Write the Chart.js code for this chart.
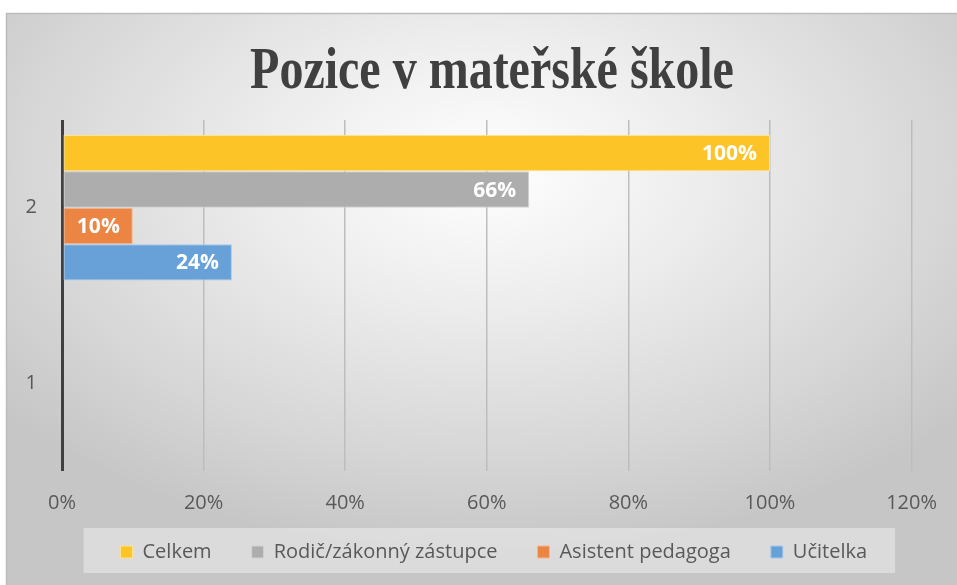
<!DOCTYPE html>
<html>
<head>
    <title>Pozice v mateřské škole</title>
    <script src="https://cdn.jsdelivr.net/npm/chart.js"></script>
    <style>
        html, body { margin: 0; padding: 0; background: #ffffff; }
        #chartBox { width: 957px; height: 585px; }
    </style>
</head>
<body>
    <div id="chartBox">
        <canvas id="myChart"></canvas>
    </div>
    <script>
        // data
        const categories = ['2', '1'];
        const celkem = [100, null];
        const rodic = [66, null];
        const asistent = [10, null];
        const ucitelka = [24, null];
        const seriesNames = ['Celkem', 'Rodič/zákonný zástupce', 'Asistent pedagoga', 'Učitelka'];
        const titleText = 'Pozice v mateřské škole';

        const colors = ['#FDC427', '#ADADAD', '#EC8444', '#67A1D8'];
        const edge = ['#FFE28E', '#D2D2D2', '#F6B893', '#A9C9EA'];
        const textGrey = '#595959';

        // gradient background
        const backdrop = {
            id: 'backdrop',
            beforeDraw(chart) {
                const ctx = chart.ctx;
                ctx.save();
                ctx.fillStyle = '#ffffff';
                ctx.fillRect(0, 0, chart.width, chart.height);
                ctx.beginPath();
                ctx.rect(6, 13, chart.width - 6, chart.height - 13);
                ctx.clip();
                ctx.translate(485, 170);
                ctx.scale(1, 0.62);
                const g = ctx.createRadialGradient(0, 0, 0, 0, 0, 620);
                g.addColorStop(0, '#ffffff');
                g.addColorStop(0.35, '#ededed');
                g.addColorStop(0.75, '#d6d6d6');
                g.addColorStop(1, '#c6c6c6');
                ctx.fillStyle = g;
                ctx.fillRect(-600, -400, 1200, 1200);
                ctx.restore();

                ctx.save();
                ctx.strokeStyle = '#bdbdbd';
                ctx.lineWidth = 1.5;
                ctx.beginPath();
                ctx.moveTo(6.5, chart.height);
                ctx.lineTo(6.5, 13.5);
                ctx.lineTo(chart.width, 13.5);
                ctx.stroke();
                ctx.restore();
            }
        };

        // pull the legend up under the tick labels (items sit wide apart like in Excel)
        const legendShift = {
            id: 'legendShift',
            afterLayout(chart) {
                const lg = chart.legend;
                lg.top -= 19;
                lg.bottom -= 19;
                lg.left += 7;
                lg.right += 7;
            }
        };

        // light panel behind the legend, drawn before the legend itself
        const legendPanel = {
            id: 'legendPanel',
            beforeDraw(chart) {
                const boxes = chart.legend.legendHitBoxes;
                if (!boxes || !boxes.length) return;
                const l = boxes[0].left - 37;
                const last = boxes[boxes.length - 1];
                const r = last.left + last.width + 28;
                const t = boxes[0].top - 14;
                const ctx = chart.ctx;
                ctx.save();
                ctx.fillStyle = 'rgba(255,255,255,0.38)';
                ctx.fillRect(l, t, r - l, 45);
                ctx.restore();
            }
        };

        // serif title, drawn a bit condensed like the original
        const bigTitle = {
            id: 'bigTitle',
            afterDraw(chart) {
                const ctx = chart.ctx;
                ctx.save();
                ctx.translate(492, 88);
                ctx.scale(0.8, 1);
                ctx.font = 'bold 60px "Liberation Serif", "DejaVu Serif", serif';
                ctx.fillStyle = '#404040';
                ctx.textAlign = 'center';
                ctx.textBaseline = 'alphabetic';
                ctx.fillText(titleText, 0, 0);
                ctx.restore();
            }
        };

        // value labels at the inner end of the bars
        const barValues = {
            id: 'barValues',
            afterDatasetsDraw(chart) {
                const ctx = chart.ctx;
                ctx.save();
                ctx.font = 'bold 21px "Open Sans", sans-serif';
                ctx.fillStyle = '#ffffff';
                ctx.textAlign = 'right';
                ctx.textBaseline = 'middle';
                chart.data.datasets.forEach((ds, i) => {
                    const meta = chart.getDatasetMeta(i);
                    meta.data.forEach((bar, j) => {
                        const v = ds.data[j];
                        if (v === null || v === undefined) return;
                        ctx.fillText(v + '%', bar.x - 13, bar.y + 1);
                    });
                });
                ctx.restore();
            }
        };

        const datasets = [celkem, rodic, asistent, ucitelka].map((d, i) => ({
            label: seriesNames[i],
            data: d,
            backgroundColor: colors[i],
            borderColor: edge[i],
            borderWidth: 1,
            borderSkipped: false,
            categoryPercentage: 0.83,
            barPercentage: 1
        }));

        const ctx = document.getElementById('myChart').getContext('2d');
        const myChart = new Chart(ctx, {
            type: 'bar',
            data: { labels: categories, datasets: datasets },
            options: {
                indexAxis: 'y',
                responsive: true,
                maintainAspectRatio: false,
                animation: false,
                layout: { padding: { top: 120, left: 8, right: 44, bottom: -6 } },
                plugins: {
                    title: { display: false },
                    tooltip: { enabled: false },
                    legend: {
                        position: 'bottom',
                        fullSize: false,
                        labels: {
                            boxWidth: 12,
                            boxHeight: 12,
                            padding: 40,
                            color: textGrey,
                            font: { family: '"Open Sans", sans-serif', size: 20 }
                        }
                    }
                },
                scales: {
                    x: {
                        min: 0,
                        max: 120,
                        ticks: {
                            stepSize: 20,
                            padding: 20,
                            color: textGrey,
                            font: { family: '"Open Sans", sans-serif', size: 20 },
                            callback: v => v + '%'
                        },
                        grid: {
                            drawTicks: false,
                            color: c => c.index === 0 ? '#404040' : '#bdbdbd',
                            lineWidth: c => c.index === 0 ? 3 : 1.5
                        },
                        border: { display: false },
                        afterFit: s => { s.height = 50; }
                    },
                    y: {
                        ticks: {
                            padding: 25,
                            color: textGrey,
                            font: { family: '"Open Sans", sans-serif', size: 20 }
                        },
                        grid: { display: false, drawTicks: false },
                        border: { display: false },
                        afterFit: s => { s.width = 54; }
                    }
                }
            },
            plugins: [backdrop, legendShift, legendPanel, barValues, bigTitle]
        });
    </script>
</body>
</html>
